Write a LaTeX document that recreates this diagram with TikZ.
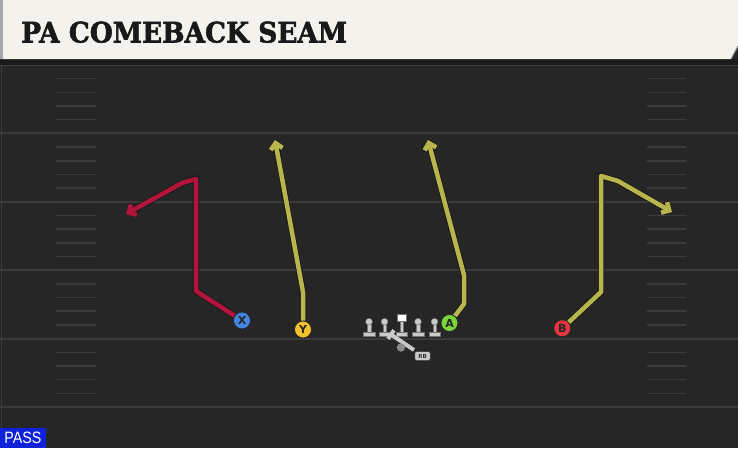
\documentclass[tikz,border=0pt]{standalone}
\usepackage{fontspec}
\usepackage{graphicx}
\usetikzlibrary{arrows.meta}
\newfontfamily\titlefont{DejaVu Serif}[BoldFeatures={FakeBold=2}]
\newfontfamily\labelfont{DejaVu Sans}
\newfontfamily\passfont{Liberation Sans}
\definecolor{fieldbg}{HTML}{262626}
\definecolor{bandbg}{HTML}{1B1B1B}
\definecolor{fieldline}{HTML}{3A3A3A}
\definecolor{titlebg}{HTML}{F4F2EC}
\definecolor{passblue}{HTML}{0F22D9}
\definecolor{routered}{HTML}{B3143A}
\definecolor{routeyel}{HTML}{B9B54D}
\definecolor{xblue}{HTML}{4384E0}
\definecolor{yyel}{HTML}{F2C12E}
\definecolor{agreen}{HTML}{7BD53B}
\definecolor{bred}{HTML}{E8343F}
\definecolor{olgray}{HTML}{C9C9C9}
\tikzset{
  route/.style={draw=#1, line width=4.5pt, line join=round,
    preaction={draw=black!90, line width=6.2pt},
    -{Straight Barb[length=6pt,width=12pt]}},
  player/.style={circle, fill=#1, draw=black!85, line width=0.8pt,
    minimum size=17pt, inner sep=0pt, text=black!85,
    font=\labelfont\bfseries\fontsize{11}{11}\selectfont},
  hashmark/.style={draw=fieldline, line width=1.5pt},
  yardline/.style={draw=fieldline, line width=2pt},
  olpart/.style={fill=olgray, draw=black!55, line width=0.4pt},
  lineman/.pic={
    \path[olpart] (-1.7,2.5) rectangle (1.7,10.5);
    \path[olpart] (0,0) circle (3.4);
    \path[olpart] (-5.7,10) rectangle (5.7,14.5);
  },
  centerman/.pic={
    \path[olpart] (-1.7,-0.5) rectangle (1.7,10.5);
    \path[fill=white, draw=black!55, line width=0.4pt] (-4.4,-7.8) rectangle (4.4,-0.4);
    \path[olpart] (-5.8,10) rectangle (5.8,14.5);
  }
}
\begin{document}
\begin{tikzpicture}[x=1pt,y=-1pt]
\useasboundingbox (0,0) rectangle (738,448);
% field
\fill[fieldbg] (0,0) rectangle (738,448);
\fill[bandbg] (0,59) rectangle (738,64.5);
\draw[fieldline, line width=1pt] (0,65.5) -- (738,65.5);
\draw[fieldline, line width=1pt] (1,65) -- (1,448);
% yard lines
\foreach \n in {1,...,5}{
  \draw[yardline] (0,{65+68.4*\n}) -- (738,{65+68.4*\n});
}
% hash marks
\foreach \n in {0,...,4}{
  \foreach \k in {1,...,4}{
    \draw[hashmark] (56,{65+68.4*\n+13.68*\k}) -- (96,{65+68.4*\n+13.68*\k});
    \draw[hashmark] (647,{65+68.4*\n+13.68*\k}) -- (686,{65+68.4*\n+13.68*\k});
  }
}
% title bar
\fill[titlebg] (0,0) -- (738,0) -- (738,46) -- (731,59) -- (0,59) -- cycle;
\fill[black!35] (0,0) rectangle (3,59);
\draw[black!45, line width=1pt] (738,46) -- (731,59);
\node[anchor=west, inner sep=0pt, text=black!90] (title) at (21,32.2)
  {\resizebox{326pt}{21pt}{\titlefont\bfseries PA COMEBACK SEAM}};
% PASS tag
\node[fill=passblue, minimum width=46pt, minimum height=20pt, inner sep=0pt, text=white] (pass) at (23,438)
  {\resizebox{37pt}{11.5pt}{\passfont PASS}};
% offensive line
\pic at (369,321.7) {lineman};
\pic at (384.5,321.7) {lineman};
\pic at (401.7,321.7) {centerman};
\pic at (418,321.7) {lineman};
\pic at (434.5,321.7) {lineman};
% running back
\draw[olgray, line width=4pt] (391,334.5) -- (414,350);
\draw[olgray, line width=4pt] (388,338.8) -- (394,330.2);
\fill[black!45] (401,347.5) circle (4.2);
\node[fill=olgray, draw=black!80, line width=0.5pt, rounded corners=2pt,
  minimum width=15.5pt, minimum height=9pt, inner sep=0pt,
  font=\labelfont\bfseries\fontsize{5.5}{5.5}\selectfont, text=black!80] (rb) at (422.5,356) {RB};
% route points
\coordinate (x1) at (196,291);
\coordinate (x2) at (196,179);
\coordinate (x3) at (182,183);
\coordinate (x4) at (126,214);
\coordinate (y1) at (303,292);
\coordinate (y2) at (275,140);
\coordinate (a1) at (464,304);
\coordinate (a2) at (464,275);
\coordinate (a3) at (428,140);
\coordinate (b1) at (601,292);
\coordinate (b2) at (601,176);
\coordinate (b3) at (618,181);
\coordinate (b4) at (672,212);
% players
\node[player=xblue] (X) at (242,320.5) {X};
\node[player=yyel] (Y) at (303,329.5) {Y};
\node[player=agreen] (A) at (449.5,323) {A};
\node[player=bred] (B) at (562.3,328.3) {B};
% routes
\draw[route=routered] (X) -- (x1) -- (x2) -- (x3) -- (x4);
\draw[route=routeyel] (Y) -- (y1) -- (y2);
\draw[route=routeyel] (A) -- (a1) -- (a2) -- (a3);
\draw[route=routeyel] (B) -- (b1) -- (b2) -- (b3) -- (b4);
\end{tikzpicture}
\end{document}
